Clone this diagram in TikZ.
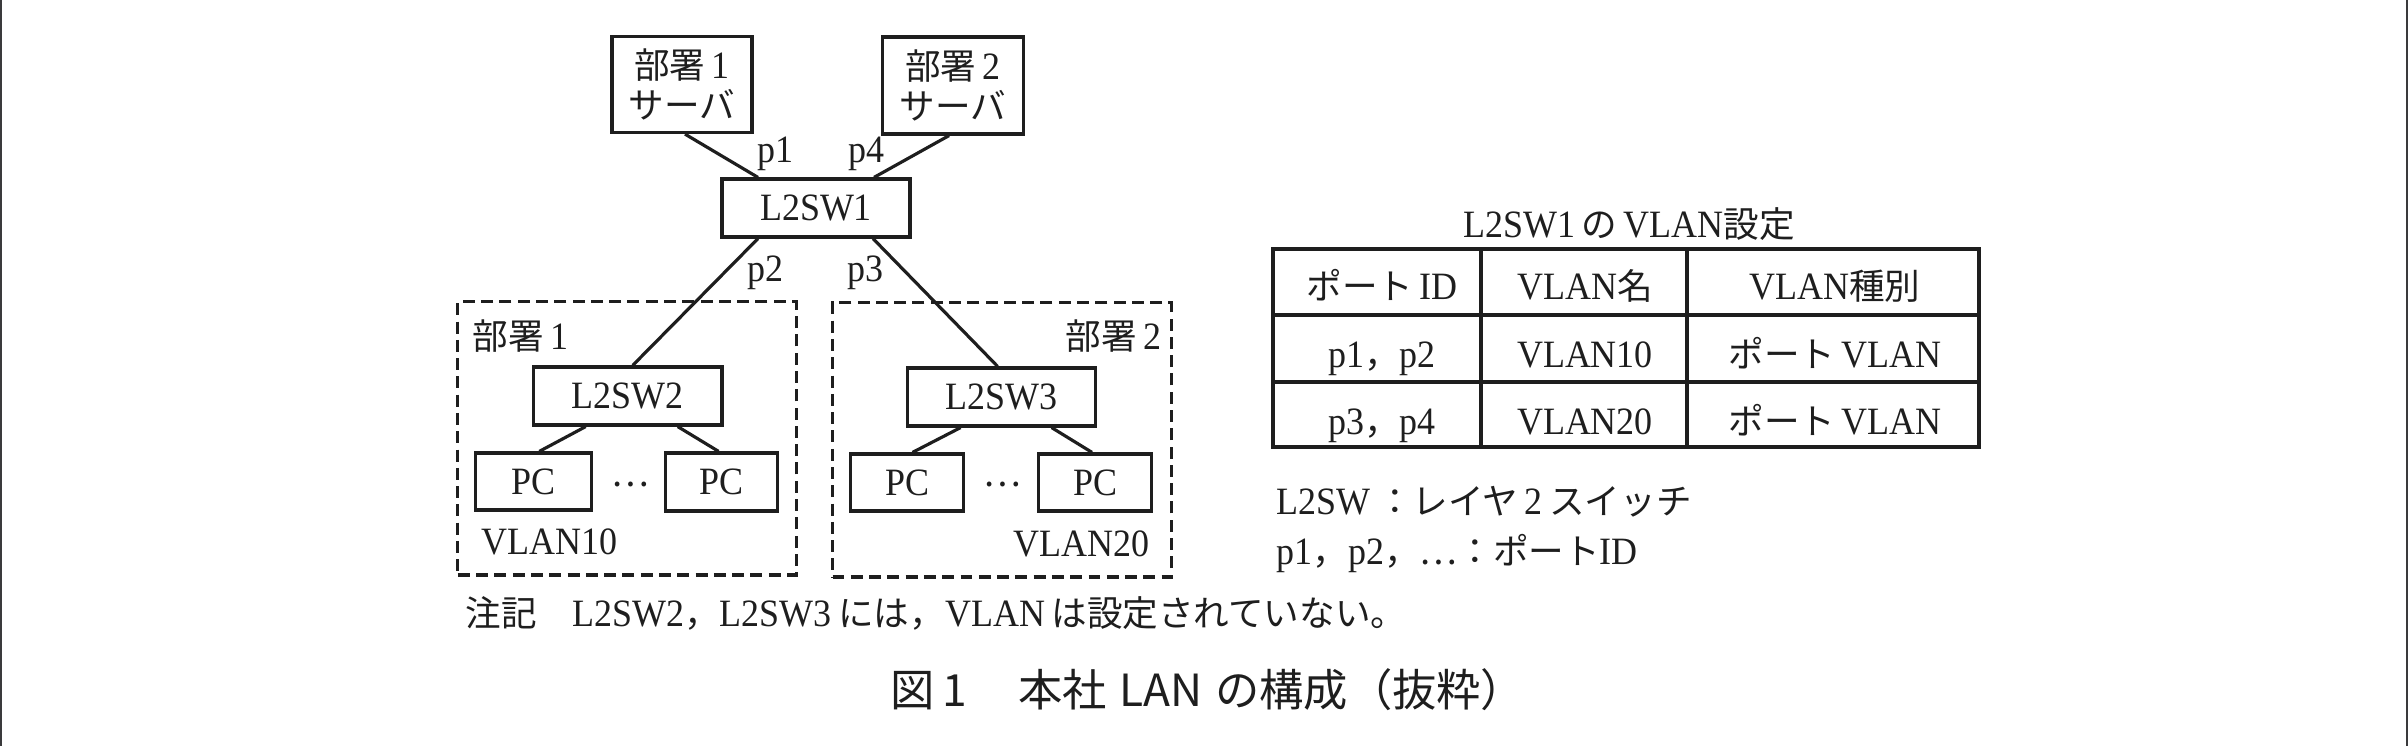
\documentclass[tikz,border=0pt]{standalone}
\usepackage{fontspec}
\setmainfont{Liberation Serif}[FakeStretch=0.93]
\newfontfamily\jpf{Noto Sans CJK JP}[Scale=0.92]
\newfontfamily\capf{Noto Sans CJK JP}
\newcommand\J[1]{{\jpf #1}}
\definecolor{ink}{RGB}{30,30,30}
\definecolor{framegray}{RGB}{58,58,60}
\begin{document}
\begin{tikzpicture}[x=0.01cm,y=-0.01cm,
  every node/.style={font=\fontsize{11}{11.6}\selectfont, text=ink},
  box/.style={draw=ink, line width=0.9pt, inner sep=0pt, align=center},
  dashbox/.style={draw=ink, line width=0.9pt, dash pattern=on 3.4pt off 1.8pt, inner sep=0pt},
  lbl/.style={inner sep=0pt},
  link/.style={draw=ink, line width=0.9pt},
  tbl/.style={draw=ink, line width=0.9pt}]
\useasboundingbox (0,0) rectangle (2408,746);
\fill[framegray] (0,0) rectangle (2,746);
\fill[framegray] (2406,0) rectangle (2408,746);

% dashed department areas
\node[dashbox, minimum width=3.38cm, minimum height=2.73cm] (d1) at (627,438.5) {};
\node[dashbox, minimum width=3.384cm, minimum height=2.74cm] (d2) at (1001.8,440) {};

% devices
\node[box, minimum width=1.40cm, minimum height=0.96cm] (srv1) at (682,84.5) {\J{部署}\,1\\\J{サーバ}};
\node[box, minimum width=1.41cm, minimum height=0.97cm] (srv2) at (953,85.5) {\J{部署}\,2\\\J{サーバ}};
\node[box, minimum width=1.88cm, minimum height=0.58cm] (sw1) at (816,208) {L2SW1};
\node[box, minimum width=1.885cm, minimum height=0.58cm] (sw2) at (627.7,396) {L2SW2};
\node[box, minimum width=1.876cm, minimum height=0.58cm] (sw3) at (1001.6,397) {L2SW3};
\node[box, minimum width=1.16cm, minimum height=0.57cm] (pc1) at (533.3,481.5) {PC};
\node[box, minimum width=1.125cm, minimum height=0.58cm] (pc2) at (721.6,482) {PC};
\node[box, minimum width=1.125cm, minimum height=0.57cm] (pc3) at (907,482.5) {PC};
\node[box, minimum width=1.13cm, minimum height=0.57cm] (pc4) at (1095,482.5) {PC};

% connectors
\draw[link] ([xshift=0.03cm]srv1.south) -- ([xshift=-0.58cm]sw1.north);
\draw[link] ([xshift=-0.04cm]srv2.south) -- ([xshift=0.58cm]sw1.north);
\draw[link] ([xshift=-0.58cm]sw1.south) -- ([xshift=0.05cm]sw2.north);
\draw[link] ([xshift=0.57cm]sw1.south) -- ([xshift=-0.04cm]sw3.north);
\draw[link] ([xshift=-0.42cm]sw2.south) -- ([xshift=0.06cm]pc1.north);
\draw[link] ([xshift=0.50cm]sw2.south) -- ([xshift=-0.03cm]pc2.north);
\draw[link] ([xshift=-0.41cm]sw3.south) -- ([xshift=0.055cm]pc3.north);
\draw[link] ([xshift=0.50cm]sw3.south) -- ([xshift=-0.03cm]pc4.north);

% port labels
\node[lbl, anchor=base] (p1) at (775,163) {p1};
\node[lbl, anchor=base] (p4) at (866.5,163) {p4};
\node[lbl, anchor=base] (p2) at (765.5,282) {p2};
\node[lbl, anchor=base] (p3) at (865.5,282) {p3};

% area labels
\node[lbl, anchor=base west] (a1) at (472,350) {\J{部署}\,1};
\node[lbl, anchor=base east] (a2) at (1162,350) {\J{部署}\,2};
\node[lbl, anchor=base west] (v1) at (481,555) {VLAN10};
\node[lbl, anchor=base east] (v2) at (1150,557) {VLAN20};
\node[lbl] (dots1) at (630,484) {\J{⋯}};
\node[lbl] (dots2) at (1002,484) {\J{⋯}};

% note and caption
\node[lbl, anchor=base west] (note) at (465,627) {\J{注記　}L2SW2\J{，}L2SW3\,\J{には，}VLAN\,\J{は設定されていない。}};
\node[lbl, anchor=base west, font=\fontsize{12.6}{14}\capf] (cap) at (890,706) {図\hspace{0.18em}1\hspace{1.15em}本社\hspace{0.28em}LAN\hspace{0.28em}の構成（抜粋）};

% table
\node[lbl, anchor=base] (ttl) at (1629,238) {L2SW1\,\J{の}\,VLAN\J{設定}};
\draw[tbl] (1273,249) rectangle (1979,447);
\draw[tbl] (1481,249) -- (1481,447) (1687,249) -- (1687,447)
           (1273,315) -- (1979,315) (1273,382) -- (1979,382);
\node[lbl, anchor=base] (c00) at (1382,300) {\J{ポート}\,ID};
\node[lbl, anchor=base] (c01) at (1585,300) {VLAN\J{名}};
\node[lbl, anchor=base] (c02) at (1835,300) {VLAN\J{種別}};
\node[lbl, anchor=base] (c10) at (1382,368) {p1\J{，}p2};
\node[lbl, anchor=base] (c11) at (1585,368) {VLAN10};
\node[lbl, anchor=base] (c12) at (1835,368) {\J{ポート}\,VLAN};
\node[lbl, anchor=base] (c20) at (1382,435) {p3\J{，}p4};
\node[lbl, anchor=base] (c21) at (1585,435) {VLAN20};
\node[lbl, anchor=base] (c22) at (1835,435) {\J{ポート}\,VLAN};

% legend
\node[lbl, anchor=base west] (lg1) at (1276,515) {L2SW\,\J{：レイヤ}\,2\,\J{スイッチ}};
\node[lbl, anchor=base west] (lg2) at (1276,565) {p1\J{，}p2\J{，⋯：ポート}ID};
\end{tikzpicture}
\end{document}
